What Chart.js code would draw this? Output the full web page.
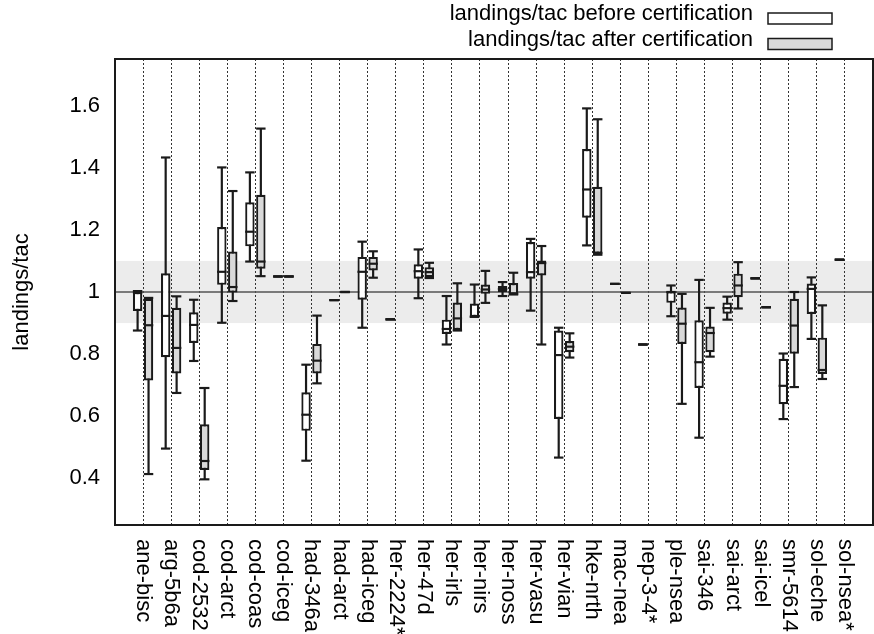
<!DOCTYPE html>
<html>
<head>
<meta charset="utf-8">
<script src="https://cdn.jsdelivr.net/npm/chart.js@4.4.1/dist/chart.umd.min.js"></script>
<style>
  body { margin: 0; background: #fff; }
</style>
</head>
<body>
<canvas id="chart" width="874" height="634"></canvas>
<script>
var categories = ["ane-bisc", "arg-5b6a", "cod-2532", "cod-arct", "cod-coas", "cod-iceg",
  "had-346a", "had-arct", "had-iceg", "her-2224*", "her-47d", "her-irls", "her-nirs",
  "her-noss", "her-vasu", "her-vian", "hke-nrth", "mac-nea", "nep-3-4*", "ple-nsea",
  "sai-346", "sai-arct", "sai-icel", "smr-5614", "sol-eche", "sol-nsea*"];

// landings/tac before certification
var beforeMin = [0.876, 0.496, 0.778, 0.901, 1.098, 1.05, 0.457, 0.974, 0.885, 0.912, 0.980, 0.831, 0.920,
  0.987, 0.940, 0.467, 1.150, 1.026, 0.831, 0.922, 0.531, 0.911, 1.044, 0.591, 0.849, 1.104];
var beforeQ1 = [0.939, 0.790, 0.836, 1.023, 1.147, 1.05, 0.553, 0.974, 0.975, 0.912, 1.043, 0.865, 0.920,
  1.000, 1.043, 0.591, 1.239, 1.026, 0.831, 0.965, 0.691, 0.930, 1.044, 0.639, 0.929, 1.104];
var beforeMed = [0.998, 0.923, 0.894, 1.065, 1.194, 1.05, 0.605, 0.974, 1.065, 0.912, 1.067, 0.881, 0.921,
  1.010, 1.064, 0.797, 1.330, 1.026, 0.831, 1.000, 0.774, 0.948, 1.044, 0.698, 1.010, 1.104];
var beforeQ3 = [1.000, 1.060, 0.935, 1.209, 1.289, 1.05, 0.677, 0.974, 1.113, 0.912, 1.089, 0.911, 0.963,
  1.019, 1.161, 0.876, 1.460, 1.026, 0.831, 1.002, 0.909, 0.966, 1.044, 0.785, 1.027, 1.104];
var beforeMax = [1.003, 1.433, 0.975, 1.401, 1.385, 1.05, 0.766, 0.974, 1.162, 0.912, 1.137, 0.987, 1.024,
  1.032, 1.171, 0.885, 1.591, 1.026, 0.831, 1.021, 1.039, 0.985, 1.044, 0.802, 1.047, 1.104];

// landings/tac after certification
var afterMin = [0.414, 0.675, 0.397, 0.971, 1.051, 1.05, 0.706, 1.000, 1.046, null, 1.045, 0.876, 0.965,
  0.992, 0.831, 0.789, 1.120, 0.997, null, 0.640, 0.792, 0.947, 0.951, 0.694, 0.720, null];
var afterQ1 = [0.715, 0.738, 0.427, 0.998, 1.075, 1.05, 0.738, 1.000, 1.069, null, 1.048, 0.878, 0.994,
  0.992, 1.053, 0.806, 1.123, 0.997, null, 0.833, 0.806, 0.983, 0.951, 0.801, 0.736, null];
var afterMed = [0.893, 0.820, 0.456, 1.016, 1.098, 1.05, 0.779, 1.000, 1.091, null, 1.064, 0.915, 1.008,
  0.995, 1.093, 0.824, 1.126, 0.997, null, 0.898, 0.868, 1.021, 0.951, 0.892, 0.749, null];
var afterQ3 = [0.978, 0.949, 0.574, 1.130, 1.313, 1.05, 0.833, 1.000, 1.113, null, 1.080, 0.966, 1.024,
  1.029, 1.101, 0.842, 1.339, 0.997, null, 0.950, 0.889, 1.059, 0.951, 0.978, 0.853, null];
var afterMax = [0.981, 0.986, 0.691, 1.325, 1.526, 1.05, 0.924, 1.000, 1.131, null, 1.094, 1.028, 1.068,
  1.062, 1.148, 0.867, 1.556, 0.997, null, 0.994, 0.949, 1.096, 0.951, 1.000, 0.957, null];

var yTicks = [0.4, 0.6, 0.8, 1, 1.2, 1.4, 1.6];
var targetBand = [0.9, 1.1];
var targetLine = 1;

var seriesNames = ["landings/tac before certification", "landings/tac after certification"];
var seriesFill = ["#ffffff", "#d9d9d9"];

var FONT = '"Liberation Sans", Arial, Helvetica, sans-serif';
var INK = "#1a1a1a";
var TEXT = "#000";
var HALF_LINE = 0.0035; // half thickness of medians and whisker caps, in data units

// empty slot at each end so the boxes sit on 1..26 of a 0..27 axis
function pad(arr) { return [null].concat(arr, [null]); }
function range(lo, hi) {
  return pad(lo.map(function (v, i) { return v == null ? null : [v, hi[i]]; }));
}
function mark(vals) {
  return pad(vals.map(function (v) { return v == null ? null : [v - HALF_LINE, v + HALF_LINE]; }));
}

function bars(stack, data, color, order, extra) {
  return Object.assign({
    type: "bar", stack: stack, data: data, order: order,
    backgroundColor: color, borderColor: INK, borderWidth: 0, borderSkipped: false,
    categoryPercentage: 0.78, barPercentage: 0.86
  }, extra || {});
}

var datasets = [
  bars("b", mark(beforeMed), INK, 1),
  bars("a", mark(afterMed), INK, 1),
  bars("b", mark(beforeMax), INK, 1),
  bars("a", mark(afterMax), INK, 1),
  bars("b", mark(beforeMin), INK, 1),
  bars("a", mark(afterMin), INK, 1),
  bars("b", range(beforeQ1, beforeQ3), seriesFill[0], 2, { borderWidth: 2.2 }),
  bars("a", range(afterQ1, afterQ3), seriesFill[1], 2, { borderWidth: 2.2 }),
  bars("b", range(beforeMin, beforeMax), INK, 3, { maxBarThickness: 2.2 }),
  bars("a", range(afterMin, afterMax), INK, 3, { maxBarThickness: 2.2 })
];

var decorations = {
  id: "decorations",
  beforeDraw: function (chart) {
    var ctx = chart.ctx, a = chart.chartArea, y = chart.scales.y;
    var top = y.getPixelForValue(targetBand[1]), bottom = y.getPixelForValue(targetBand[0]);
    ctx.save();
    ctx.fillStyle = "#ececec";
    ctx.fillRect(a.left, top, a.right - a.left, bottom - top);
    ctx.restore();
  },
  beforeDatasetsDraw: function (chart) {
    var ctx = chart.ctx, a = chart.chartArea, y = chart.scales.y;
    var py = y.getPixelForValue(targetLine);
    ctx.save();
    ctx.strokeStyle = "#555";
    ctx.lineWidth = 1.5;
    ctx.beginPath();
    ctx.moveTo(a.left, py);
    ctx.lineTo(a.right, py);
    ctx.stroke();
    ctx.restore();
  },
  afterDraw: function (chart) {
    var ctx = chart.ctx, a = chart.chartArea, x = chart.scales.x;
    ctx.save();
    // frame
    ctx.strokeStyle = INK;
    ctx.lineWidth = 2;
    ctx.strokeRect(a.left, a.top, a.right - a.left, a.bottom - a.top);

    // category labels, read top to bottom
    ctx.fillStyle = TEXT;
    ctx.font = "22px " + FONT;
    ctx.textAlign = "left";
    ctx.textBaseline = "middle";
    categories.forEach(function (c, i) {
      ctx.save();
      ctx.translate(x.getPixelForValue(i + 1), a.bottom + 14);
      ctx.rotate(Math.PI / 2);
      ctx.fillText(c, 0, 0);
      ctx.restore();
    });

    // legend, box on the right of the text
    ctx.textAlign = "right";
    ctx.textBaseline = "alphabetic";
    seriesNames.forEach(function (name, i) {
      var base = 20 + i * 25.5;
      ctx.fillStyle = TEXT;
      ctx.fillText(name, 753, base);
      ctx.fillStyle = seriesFill[i];
      ctx.fillRect(768, base - 7, 64, 11);
      ctx.lineWidth = 1.5;
      ctx.strokeStyle = INK;
      ctx.strokeRect(768, base - 7, 64, 11);
    });
    ctx.restore();
  }
};

new Chart("chart", {
  type: "bar",
  data: { labels: pad(categories.map(function () { return ""; })), datasets: datasets },
  options: {
    responsive: false,
    animation: false,
    layout: { padding: { top: 59, right: 1, bottom: 0, left: 0 } },
    plugins: { legend: { display: false }, tooltip: { enabled: false } },
    scales: {
      x: {
        type: "category",
        offset: false,
        grid: { offset: false, color: "#333", lineWidth: 1, drawTicks: false },
        border: { display: false, dash: [2, 2] },
        ticks: { display: false },
        afterFit: function (s) { s.height = 109; }
      },
      y: {
        type: "linear",
        min: 0.25,
        max: 1.75,
        stacked: false,
        afterBuildTicks: function (s) { s.ticks = yTicks.map(function (v) { return { value: v }; }); },
        grid: { display: false, drawTicks: false },
        border: { display: false },
        ticks: {
          padding: 15, color: TEXT, font: { size: 22, family: FONT },
          callback: function (v) { return String(v); }
        },
        title: {
          display: true, text: "landings/tac", color: TEXT,
          font: { size: 22, family: FONT }, padding: { top: 9, bottom: 0 }
        },
        afterFit: function (s) { s.width = 115; }
      }
    }
  },
  plugins: [decorations]
});
</script>
</body>
</html>
